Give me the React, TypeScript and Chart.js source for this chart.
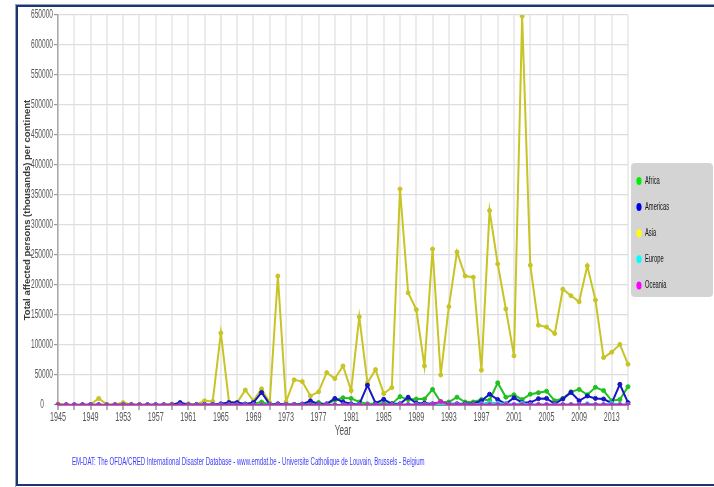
import React, { useEffect, useRef } from 'react';
import { Chart, registerables } from 'chart.js';

Chart.register(...registerables);

const YEARS = [
  '1945', '1946', '1947', '1948', '1949', '1950', '1951', '1952', '1953', '1954',
  '1955', '1956', '1957', '1958', '1959', '1960', '1961', '1962', '1963', '1964',
  '1965', '1966', '1967', '1968', '1969', '1970', '1971', '1972', '1973', '1974',
  '1975', '1976', '1977', '1978', '1979', '1980', '1981', '1982', '1983', '1984',
  '1985', '1986', '1987', '1988', '1989', '1990', '1991', '1992', '1993', '1994',
  '1995', '1996', '1997', '1998', '1999', '2000', '2001', '2002', '2003', '2004',
  '2005', '2006', '2007', '2008', '2009', '2010', '2011', '2012', '2013', '2014',
  '2015',
];

const AFRICA = [
  300, 200, 200, 300, 200, 300, 200, 300, 200, 300,
  200, 300, 200, 300, 500, 300, 500, 300, 500, 500,
  800, 1000, 1000, 1500, 2000, 5000, 1000, 1000, 1000, 1000,
  1500, 2000, 4000, 1000, 8000, 12000, 11000, 5000, 2000, 2000,
  3000, 2000, 14000, 9000, 10000, 10000, 26000, 5000, 5000, 13000,
  5000, 5000, 9000, 8000, 37000, 13000, 17000, 9000, 18000, 20500,
  23000, 7000, 11000, 22000, 26000, 17000, 29500, 24000, 7000, 9000,
  30500,
];

const AMERICAS = [
  200, 300, 200, 300, 500, 300, 200, 300, 500, 300,
  200, 300, 500, 300, 500, 4000, 500, 500, 1000, 1000,
  2000, 4000, 4000, 1500, 4000, 21000, 1000, 2000, 1000, 1000,
  1500, 7000, 1500, 2000, 11000, 5000, 2000, 1000, 33000, 3000,
  9500, 2000, 2000, 13000, 3000, 3000, 2000, 4000, 2000, 2000,
  2000, 2000, 7000, 18000, 9000, 2000, 12000, 4000, 4000, 10500,
  11000, 2000, 10000, 21000, 7000, 15000, 11000, 10000, 3000, 34500,
  4000,
];

const ASIA = [
  2000, 500, 500, 500, 1000, 11000, 1000, 1000, 4000, 1000,
  1000, 500, 500, 500, 1500, 1500, 2000, 1000, 7000, 6000,
  120000, 5000, 4000, 25000, 7000, 27000, 4000, 215000, 5000, 42000,
  39000, 15000, 22000, 54000, 44000, 65000, 24000, 147000, 37000, 59000,
  19000, 29000, 360000, 187000, 159000, 65000, 260000, 50000, 164000, 255000,
  215000, 213000, 58000, 324000, 235000, 160000, 82000, 648000, 233000, 133000,
  130000, 119000, 193000, 182000, 172000, 232000, 175000, 79000, 88000, 101000,
  68000,
];

const EUROPE = [
  200, 200, 200, 200, 200, 200, 200, 200, 200, 200,
  200, 200, 200, 200, 200, 300, 200, 200, 300, 300,
  500, 500, 500, 500, 500, 500, 500, 500, 500, 500,
  500, 500, 500, 500, 500, 500, 500, 500, 500, 500,
  500, 500, 1000, 1000, 1000, 1000, 1000, 2000, 1500, 1000,
  1000, 1000, 2000, 4000, 3000, 2000, 1000, 3000, 1000, 1000,
  1000, 1000, 1000, 1000, 1000, 2000, 1000, 1000, 3000, 1000,
  1000,
];

const OCEANIA = [
  200, 200, 200, 200, 200, 200, 200, 200, 200, 200,
  200, 200, 200, 200, 200, 200, 200, 200, 200, 200,
  200, 200, 200, 200, 200, 200, 200, 200, 200, 200,
  200, 200, 200, 200, 200, 200, 200, 200, 200, 200,
  200, 200, 300, 300, 300, 300, 500, 6000, 500, 300,
  300, 300, 300, 300, 300, 300, 300, 300, 300, 300,
  300, 300, 300, 300, 300, 300, 300, 300, 300, 300,
  300,
];

const SERIES_NAMES = ['Africa', 'Americas', 'Asia', 'Europe', 'Oceania'];
const LINE_COLORS = ['#1fc01f', '#1616c4', '#c8c426', '#22d4d4', '#d21cd2'];
const LEGEND_COLORS = ['#00ee00', '#0000ee', '#ffff00', '#00ffff', '#ff00ff'];
const DRAW_ORDER = [3, 2, 4, 1, 0];

const Y_MIN = 0;
const Y_MAX = 650000;
const Y_STEP = 50000;

const Y_TITLE = 'Total affected persons (thousands) per continent';
const X_TITLE = 'Year';
const FOOTNOTE =
  'EM-DAT: The OFDA/CRED International Disaster Database - www.emdat.be - Universite Catholique de Louvain, Brussels - Belgium';

const SQUEEZE = 0.55;
const FONT = 'Liberation Sans';

const squeezeText = {
  id: 'squeezeText',
  beforeInit(chart: any) {
    const ctx = chart.ctx;
    const orig = ctx.fillText;
    ctx.fillText = function (text: string, x: number, y: number, maxWidth?: number) {
      const s = String(ctx.font).indexOf('Arial') >= 0 ? 1 : SQUEEZE;
      ctx.save();
      ctx.translate(x, y);
      ctx.scale(s, 1);
      if (maxWidth !== undefined && maxWidth !== null && !isNaN(maxWidth)) {
        orig.call(ctx, text, 0, 0, maxWidth / s);
      } else {
        orig.call(ctx, text, 0, 0);
      }
      ctx.restore();
    };
  },
};

const framePlugin = {
  id: 'frameDecor',
  beforeDraw(chart: any) {
    const c = chart.ctx;
    c.save();
    c.fillStyle = '#ffffff';
    c.fillRect(0, 0, chart.width, chart.height);
    c.fillStyle = '#8fa2c6';
    c.fillRect(15, 4, 699, 1);
    c.fillRect(15, 4, 1, 483);
    c.fillStyle = '#1d3670';
    c.fillRect(16, 5, 698, 2);
    c.fillRect(16, 5, 2, 481);
    c.fillRect(16, 484, 698, 2);
    c.restore();
  },
  afterDraw(chart: any) {
    const c = chart.ctx;
    c.save();
    // legend box
    c.fillStyle = '#d4d4d4';
    c.beginPath();
    if (c.roundRect) c.roundRect(631, 163, 82, 134, 4);
    else c.rect(631, 163, 82, 134);
    c.fill();
    chart.data.datasets.forEach((ds: any, i: number) => {
      const y = 181 + i * 26.1;
      c.fillStyle = LEGEND_COLORS[i];
      c.beginPath();
      c.ellipse(639, y, 2.6, 4, 0, 0, Math.PI * 2);
      c.fill();
      c.fillStyle = '#111111';
      c.font = `10.5px "${FONT}"`;
      c.textAlign = 'left';
      c.textBaseline = 'middle';
      c.fillText(ds.label, 645, y);
    });
    // footnote
    c.fillStyle = '#3b3bff';
    c.font = `11px "${FONT}"`;
    c.textAlign = 'left';
    c.textBaseline = 'middle';
    c.fillText(FOOTNOTE, 72, 462);
    c.restore();
  },
};

export default function App() {
  const ref = useRef<HTMLCanvasElement | null>(null);

  useEffect(() => {
    if (!ref.current) return;
    const seriesData = [AFRICA, AMERICAS, ASIA, EUROPE, OCEANIA];
    const chart = new Chart(ref.current, {
      type: 'line',
      data: {
        labels: YEARS,
        datasets: SERIES_NAMES.map((name, i) => ({
          label: name,
          data: seriesData[i],
          borderColor: LINE_COLORS[i],
          backgroundColor: LINE_COLORS[i],
          pointBackgroundColor: LINE_COLORS[i],
          pointBorderColor: LINE_COLORS[i],
          pointRadius: 2,
          pointBorderWidth: 1,
          borderWidth: 2,
          tension: 0,
          fill: false,
          order: DRAW_ORDER[i],
        })),
      },
      options: {
        animation: false,
        responsive: false,
        devicePixelRatio: 1,
        layout: { padding: { left: 16, right: 86, top: 15, bottom: 42 } },
        plugins: {
          legend: { display: false },
          tooltip: { enabled: false },
          title: { display: false },
        },
        scales: {
          x: {
            type: 'category',
            afterFit: (s: any) => {
              s.height = 40;
            },
            grid: {
              color: (ctx: any) => (ctx.index % 2 === 0 ? '#ececec' : 'rgba(0,0,0,0)'),
              lineWidth: 2,
              tickColor: (ctx: any) => (ctx.index % 2 === 0 ? '#666666' : 'rgba(0,0,0,0)'),
              tickLength: 5,
              tickWidth: 1,
            },
            border: { display: true, color: '#222222', width: 1.5 },
            ticks: {
              autoSkip: false,
              maxRotation: 0,
              minRotation: 0,
              padding: 0,
              color: '#555555',
              font: { family: FONT, size: 13 },
              callback: (_v: any, i: number) => (i % 4 === 0 ? YEARS[i] : ''),
            },
            title: {
              display: true,
              text: X_TITLE,
              color: '#555555',
              font: { family: FONT, size: 15 },
              padding: { top: 0, bottom: 5 },
            },
          },
          y: {
            min: Y_MIN,
            max: Y_MAX,
            afterFit: (s: any) => {
              s.width = 42;
            },
            grid: {
              color: '#dddddd',
              lineWidth: 1.2,
              tickColor: '#999999',
              tickLength: 4,
            },
            border: { display: true, color: '#aaaaaa', width: 1.5 },
            ticks: {
              stepSize: Y_STEP,
              padding: 1,
              color: '#555555',
              font: { family: FONT, size: 12 },
              callback: (v: any) => (Number(v) === 0 ? '0     ' : String(v)),
            },
            title: {
              display: true,
              text: Y_TITLE,
              color: '#3a3a3a',
              font: { family: 'Arial', size: 9.5, weight: 'bold' },
              padding: { top: 6, bottom: 0 },
            },
          },
        },
      },
      plugins: [squeezeText, framePlugin],
    } as any);
    return () => chart.destroy();
  }, []);

  return (
    <div
      style={{
        position: 'fixed',
        left: 0,
        top: 0,
        width: 714,
        height: 487,
        background: '#ffffff',
        overflow: 'hidden',
      }}
    >
      <canvas
        ref={ref}
        width={714}
        height={487}
        style={{ width: '714px', height: '487px', display: 'block' }}
      />
    </div>
  );
}
